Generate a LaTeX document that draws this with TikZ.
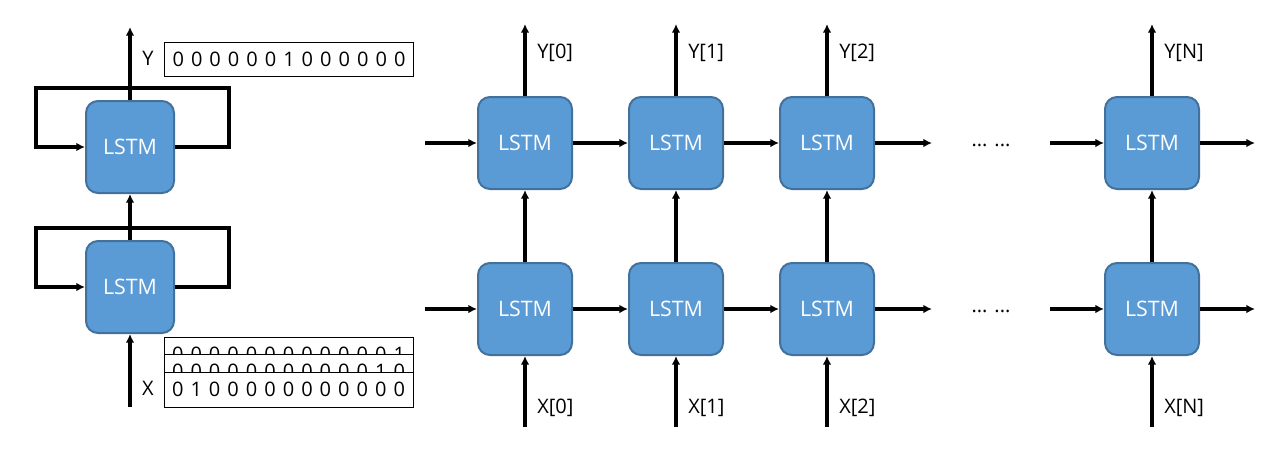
\documentclass[tikz,border=0pt]{standalone}
\usepackage{fontspec}
\setmainfont{Open Sans}
\newfontfamily\bitfont[WordSpace=1.35]{Open Sans}
\usetikzlibrary{arrows.meta, positioning}
\definecolor{lstmfill}{HTML}{5B9BD5}
\definecolor{lstmedge}{HTML}{41719C}

\begin{document}
\begin{tikzpicture}[x=0.75pt, y=-0.75pt,
            % Styles
            cell/.style={rectangle, draw=lstmedge, fill=lstmfill, line width=1.5pt, rounded corners=9pt, minimum width=66pt, minimum height=69pt, text=white, font=\fontsize{16}{19}\selectfont},
            wide/.style={cell, minimum width=70.5pt},
            card/.style={rectangle, draw=black, fill=white, line width=0.75pt, minimum width=186.75pt, minimum height=26.25pt, inner sep=0pt, font=\bitfont\fontsize{15}{18}\selectfont},
            lbl/.style={font=\fontsize{15}{18}\selectfont, inner sep=0pt},
            line/.style={draw, -{Latex[length=6.5pt, width=6.5pt]}, line width=2.5pt}
        ]
        \useasboundingbox (0,0) rectangle (1288,464);

        % Folded network
        \node [cell] (loopTop) at (130,147) {LSTM};
        \node [cell] (loopBot) at (130,287) {LSTM};
        \coordinate (yEnd) at (130,27);
        \coordinate (xStart) at (130,407);

        \path [line] (loopTop.north) -- (yEnd);
        \path [line] (loopBot.north) -- (loopTop.south);
        \path [line] (xStart) -- (loopBot.south);
        \path [line] (loopTop.east) -- ++(54,0) |- ++(-193,-59) |- (loopTop.west);
        \path [line] (loopBot.east) -- ++(54,0) |- ++(-193,-59) |- (loopBot.west);

        % Output vector
        \node [lbl] (yName) at (148,58) {Y};
        \node [card, minimum height=25.5pt] (yBits) at (289,59) {0 0 0 0 0 0 1 0 0 0 0 0 0};

        % Input vectors, back to front
        \node [card] (xBits3) at (288.5,354.5) {0 0 0 0 0 0 0 0 0 0 0 0 1};
        \node [card] (xBits2) at (288.5,371.5) {0 0 0 0 0 0 0 0 0 0 0 1 0};
        \node [card] (xBits1) at (288.5,389.5) {0 1 0 0 0 0 0 0 0 0 0 0 0};
        \node [lbl] (xName) at (148,388) {X};

        % Unrolled network
        \foreach \i/\x in {0/525, 1/676, 2/827, N/1152} {
            \node [wide] (top\i) at (\x,143) {LSTM};
            \node [wide] (bot\i) at (\x,309) {LSTM};
            \coordinate (out\i) at (\x,24);
            \coordinate (in\i) at (\x,427);
            \path [line] (bot\i) -- (top\i);
            \path [line] (top\i) -- (out\i);
            \path [line] (in\i) -- (bot\i);
            \node [lbl, anchor=west] (yLabel\i) at (\x+12,53) {Y[\i]};
            \node [lbl, anchor=west] (xLabel\i) at (\x+12,408) {X[\i]};
        }

        % Rows
        \foreach \r/\y in {top/143, bot/309} {
            \coordinate (\r Start) at (425,\y);
            \coordinate (\r Gap) at (932,\y);
            \coordinate (\r Resume) at (1050,\y);
            \coordinate (\r End) at (1255,\y);
            \path [line] (\r Start) -- (\r 0);
            \path [line] (\r 0) -- (\r 1);
            \path [line] (\r 1) -- (\r 2);
            \path [line] (\r 2) -- (\r Gap);
            \path [line] (\r Resume) -- (\r N);
            \path [line] (\r N) -- (\r End);
            \node [lbl] (\r Dots) at (991,\y+2) {... ...};
        }
    \end{tikzpicture}
\end{document}
